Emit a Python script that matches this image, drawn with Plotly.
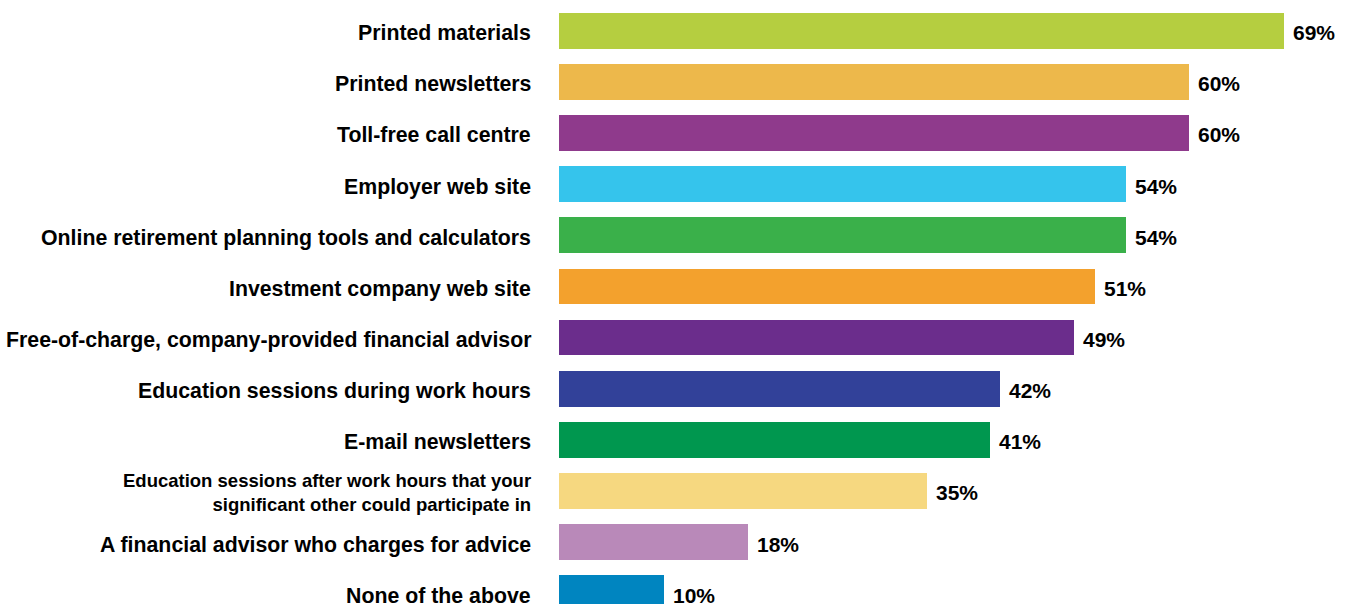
import plotly.graph_objects as go

# Survey responses: preferred sources of retirement-planning information
categories = [
    "Printed materials",
    "Printed newsletters",
    "Toll-free call centre",
    "Employer web site",
    "Online retirement planning tools and calculators",
    "Investment company web site",
    "Free-of-charge, company-provided financial advisor",
    "Education sessions during work hours",
    "E-mail newsletters",
    "Education sessions after work hours that your\nsignificant other could participate in",
    "A financial advisor who charges for advice",
    "None of the above",
]
values = [69, 60, 60, 54, 54, 51, 49, 42, 41, 35, 18, 10]
colors = [
    "#B5CE40", "#EDB84B", "#8F3A8C", "#35C4EC", "#3AB04A", "#F3A12D",
    "#6B2D8C", "#324199", "#00974F", "#F6D880", "#B989B9", "#0085C0",
]

positions = list(range(len(categories)))
FONT = "Liberation Sans, Arial, Helvetica, sans-serif"

fig = go.Figure(
    go.Bar(
        x=values,
        y=positions,
        orientation="h",
        marker=dict(color=colors, line=dict(width=0)),
        width=0.7,
        hoverinfo="skip",
    )
)

annotations = []
for pos, label, val in zip(positions, categories, values):
    lines = label.split("\n")
    multi = len(lines) > 1
    annotations.append(dict(
        x=0, y=pos, xref="x", yref="y",
        text="<b>" + "<br>".join(lines) + "</b>",
        showarrow=False, xanchor="right", yanchor="middle", align="right",
        xshift=-26, yshift=-2 if multi else -2.5,
        font=dict(family=FONT, size=18.5 if multi else 21.3, color="#000000"),
    ))
    annotations.append(dict(
        x=val, y=pos, xref="x", yref="y", text=f"<b>{val}%</b>",
        showarrow=False, xanchor="left", yanchor="middle", xshift=7, yshift=-2,
        font=dict(family=FONT, size=21, color="#000000"),
    ))

fig.update_layout(
    width=1349,
    height=604,
    margin=dict(l=559, r=0, t=0, b=0, pad=0),
    paper_bgcolor="#FFFFFF",
    plot_bgcolor="#FFFFFF",
    showlegend=False,
    annotations=annotations,
    xaxis=dict(range=[0, 790 / 10.5], visible=False, fixedrange=True),
    yaxis=dict(range=[11.21, -0.6], visible=False, fixedrange=True),
    bargap=0,
)

fig.write_html("out.html", config={"displayModeBar": False})
